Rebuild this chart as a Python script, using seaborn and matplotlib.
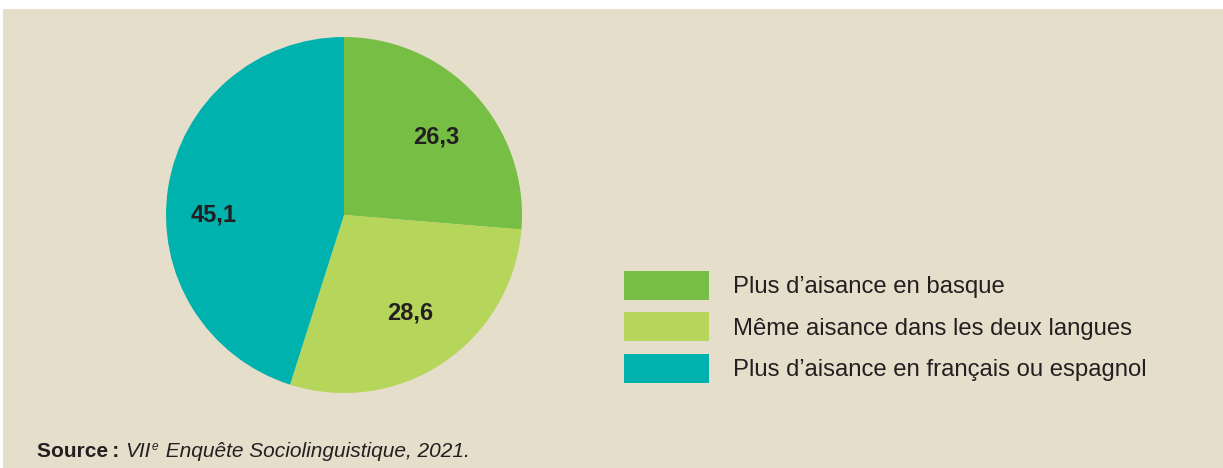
import matplotlib
matplotlib.use("Agg")
import matplotlib.pyplot as plt
import matplotlib.patches as mpatches
import seaborn as sns

# Data
categories = [
    "Plus d\u2019aisance en basque",
    "M\u00eame aisance dans les deux langues",
    "Plus d\u2019aisance en fran\u00e7ais ou espagnol",
]
values = [26.3, 28.6, 45.1]
value_labels = ["26,3", "28,6", "45,1"]
colors = ["#77bf44", "#b5d65b", "#00b2ae"]
# where each value label sits inside its slice (pie radius units)
label_pos = [(0.52, 0.44), (0.37, -0.55), (-0.73, 0.0)]

sns.set_style("white")
plt.rcParams["font.family"] = ["Liberation Sans", "DejaVu Sans"]

W, H = 1223, 468
fig = plt.figure(figsize=(W / 100, H / 100), dpi=100, facecolor="white")

# Beige panel
fig.patches.append(mpatches.Rectangle((3 / W, 0), 1, 1 - 9 / H, transform=fig.transFigure,
                                      facecolor="#e4decb", edgecolor="none", zorder=-5))

# Pie
cx, cy, r = 344, 215, 178
ax = fig.add_axes([(cx - r) / W, 1 - (cy + r) / H, 2 * r / W, 2 * r / H])
ax.set_facecolor("none")
wedges, texts = ax.pie(values, colors=colors, startangle=90, counterclock=False,
                       labels=value_labels, labeldistance=0.69,
                       wedgeprops=dict(linewidth=0),
                       textprops=dict(fontsize=17, fontweight="bold", color="#231f20",
                                      ha="center", va="center"))
for t, p in zip(texts, label_pos):
    t.set_position(p)
ax.set_xlim(-1, 1)
ax.set_ylim(-1, 1)
ax.set_aspect("equal")
ax.axis("off")

# Legend
handles = [mpatches.Patch(facecolor=c, edgecolor="none") for c in colors]
lfs = 17.2
fs = lfs * 100 / 72
hh = (29 / fs - 0.245) / 0.65
fig.legend(handles, categories, loc="upper left",
           bbox_to_anchor=(624 / W, 1 - 271 / H), frameon=False,
           fontsize=lfs, borderpad=0, borderaxespad=0,
           handlelength=85 / fs, handleheight=hh,
           handletextpad=24 / fs, labelspacing=(41.5 - hh * fs) / fs + 6.5 / fs,
           labelcolor="#231f20")

# Source line
ink = "#231f20"
y0 = 1 - 457 / H
t1 = fig.text(37 / W, y0, "Source\u2009:", fontsize=15, fontweight="bold", color=ink, va="baseline")
fig.canvas.draw()
rend = fig.canvas.get_renderer()
x = t1.get_window_extent(rend).x1 / W + 6 / W
t2 = fig.text(x, y0, "VII", fontsize=15, style="italic", color=ink, va="baseline")
fig.canvas.draw()
x = t2.get_window_extent(rend).x1 / W + 1 / W
t3 = fig.text(x, y0 + 7 / H, "e", fontsize=8.5, style="italic", color=ink, va="baseline")
fig.canvas.draw()
x = t3.get_window_extent(rend).x1 / W + 2 / W
fig.text(x, y0, " Enqu\u00eate Sociolinguistique, 2021.", fontsize=15, style="italic",
         color=ink, va="baseline")

fig.savefig("out.png", dpi=100, facecolor="white")
